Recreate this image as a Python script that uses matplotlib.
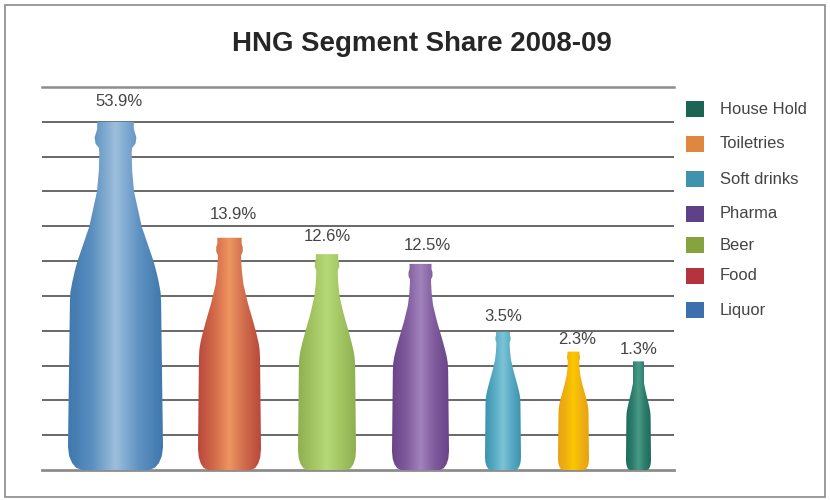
import numpy as np
import matplotlib
matplotlib.use("Agg")
import matplotlib.pyplot as plt
from matplotlib.colors import LinearSegmentedColormap
from matplotlib.patches import Polygon, Rectangle

plt.rcParams['font.family'] = ['Liberation Sans', 'DejaVu Sans']

# ---- data ----
title = "HNG Segment Share 2008-09"
share_labels = ["53.9%", "13.9%", "12.6%", "12.5%", "3.5%", "2.3%", "1.3%"]
# drawn bottle heights, in gridline intervals (not proportional to the shares in the original)
bottle_heights = [10.0, 6.67, 6.2, 5.92, 3.97, 3.4, 3.12]
legend_names = ["House Hold", "Toiletries", "Soft drinks", "Pharma", "Beer", "Food", "Liquor"]

# ---- layout and style ----
W, H = 830, 500
LEFT, RIGHT, TOP, BOTTOM = 42, 674, 87, 470
centers = [115.5, 229.5, 327, 420.5, 503, 573.5, 638.5]
widths = [95, 63, 58, 57, 36, 31, 25]
label_gap = [20, 23, 18, 18, 15, 12, 12]
label_dx = [3.5, 3.5, 0, 6.5, 0, 3.5, 0.5]
gradients = [
    ["#3f78ad", "#5b8fc0", "#9dbfdc", "#5f92c2", "#3f78ad"],
    ["#b9483a", "#d2694a", "#ee9560", "#cf6a4b", "#b9483a"],
    ["#8fb04f", "#a2c461", "#b6d977", "#a2c461", "#8fb04f"],
    ["#6a4488", "#7f5a9d", "#a283bb", "#7f5a9d", "#6a4488"],
    ["#3d92ad", "#57aac3", "#7cc4d6", "#57aac3", "#3d92ad"],
    ["#e8a312", "#f0b010", "#fbc800", "#f0b010", "#e8a312"],
    ["#1f6a5c", "#2d7d6c", "#4a9a88", "#2d7d6c", "#1f6a5c"],
]
legend_colors = ["#1c6454", "#e0873f", "#3f93ad", "#5f4189", "#86a33f", "#b5333f", "#3b6fae"]
legend_y = [109, 144, 179, 214, 245, 276, 310]

# bottle silhouettes: fraction of height, fraction of half-width
tall_y = [0, .0066, .02, .04, .066, .48, .51, .54, .57, .60, .70, .80, .86, .91, .925, .937, .955, .968, .98, 1]
tall_w = [.70, .83, .914, .975, 1, .96, .95, .91, .86, .80, .55, .39, .35, .34, .35, .42, .44, .41, .385, .385]
short_y = [0, .009, .027, .054, .09, .48, .52, .55, .59, .64, .72, .80, .86, .91, .925, .94, .96, .975, 1]
short_w = [.68, .82, .91, .975, 1, .97, .955, .92, .85, .75, .58, .44, .39, .37, .37, .42, .42, .385, .385]
profiles = [(tall_y, tall_w)] + [(short_y, short_w)] * 6

fig = plt.figure(figsize=(W / 100, H / 100), dpi=100, facecolor="white")
fig.add_artist(Rectangle((5 / W, 1 - 497 / H), 820 / W, 492 / H, transform=fig.transFigure,
                         fill=False, ec="#8a8a8a", lw=1.2))

ax = fig.add_axes([LEFT / W, 1 - BOTTOM / H, (RIGHT - LEFT) / W, (BOTTOM - TOP) / H])
ax.patch.set_alpha(0)
for s in ax.spines.values():
    s.set_visible(False)
ax.tick_params(left=False, bottom=False, labelleft=False, labelbottom=False)

ax.set_yticks(np.arange(1, 11))
ax.yaxis.grid(True, color="#4f4f4f", lw=1.2, zorder=1)
ax.axhline(11, color="#8c8c8c", lw=1.8, zorder=1, clip_on=False)
ax.axhline(0, color="#8c8c8c", lw=2.0, zorder=1, clip_on=False)
ax.set_axisbelow(True)

for i, (cx, w, h, lab) in enumerate(zip(centers, widths, bottle_heights, share_labels)):
    cmap = LinearSegmentedColormap.from_list(f"b{i}", gradients[i])
    img = ax.imshow(np.linspace(0, 1, 128)[None, :], cmap=cmap, aspect="auto",
                    extent=(cx - w / 2, cx + w / 2, 0, h), zorder=3)
    py, pw = profiles[i]
    ys = np.array(py) * h
    hw = np.maximum(np.array(pw) * w / 2, 5.5)
    pts = np.r_[np.c_[cx - hw, ys], np.c_[cx + hw, ys][::-1]]
    clip = Polygon(pts, closed=True, transform=ax.transData, fc="none", ec="none")
    ax.add_patch(clip)
    img.set_clip_path(clip)
    ax.annotate(lab, (cx, h), xytext=(label_dx[i] * 0.72, label_gap[i] * 0.72), textcoords="offset points",
                ha="center", va="center", fontsize=12, color="#444444", zorder=5)

ax.set_xlim(LEFT, RIGHT)
ax.set_ylim(0, 11)

fig.text(422 / W, 1 - 44 / H, title, ha="center", va="center", fontsize=19.9,
         fontweight="bold", color="#262626")

for name, col, y in zip(legend_names, legend_colors, legend_y):
    fig.add_artist(Rectangle((686 / W, 1 - (y + 8) / H), 18 / W, 16 / H, transform=fig.transFigure,
                             fc=col, ec="none"))
    fig.text(720 / W, 1 - y / H, name, ha="left", va="center", fontsize=11.9, color="#444444")

fig.savefig("out.png", dpi=100)
